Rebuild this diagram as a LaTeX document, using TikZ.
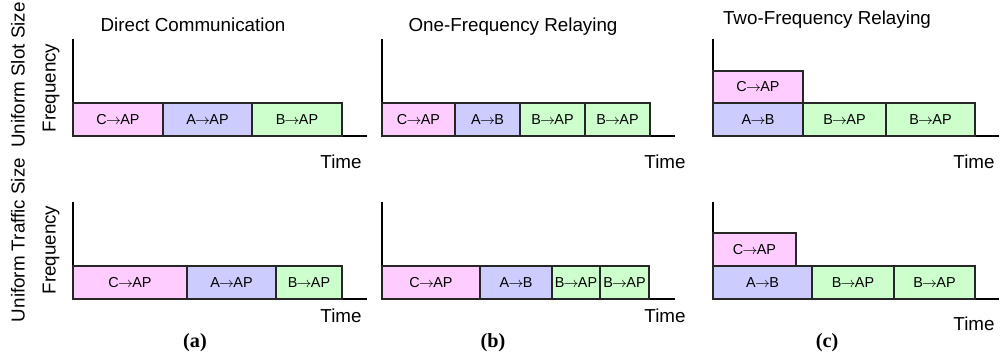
\documentclass[tikz,border=0pt]{standalone}
\usepackage{fontspec}
\setmainfont{Liberation Serif}
\setsansfont{Liberation Sans}
\usepackage{tikz}
\usetikzlibrary{fit,calc}
\definecolor{SlotC}{HTML}{FFCCFF}
\definecolor{SlotA}{HTML}{CCCCFF}
\definecolor{SlotB}{HTML}{CCFFCC}
\newcommand{\tx}{\kern-0.05em$\rightarrow$\kern-0.05em}

\begin{document}
\begin{tikzpicture}[
  x=0.02cm, y=-0.02cm,
  font=\sffamily\fontsize{10.7}{12}\selectfont,
  slot/.style={draw=black!85,line width=0.6pt,inner sep=0pt},
  slotlab/.style={inner sep=0pt,font=\sffamily\fontsize{8.2}{10}\selectfont},
  axis/.style={line width=0.7pt,black},
  ttl/.style={anchor=base,inner sep=0pt},
  tlab/.style={anchor=base,inner sep=0pt},
  ylab/.style={rotate=90,inner sep=0pt},
  sublab/.style={inner sep=0pt,font=\rmfamily\bfseries\fontsize{11.5}{13}\selectfont},
]
\useasboundingbox (0,0) rectangle (1000,356);

% axes
\foreach \n/\x/\y/\xe in {a1/73/136/367,a2/73/299/367,b1/382/136/675,
                          b2/382/299/675,c1/713/136/999,c2/713/299/999}{
  \coordinate (\n o) at (\x,\y);
  \coordinate (\n t) at (\x,\y-97);
  \coordinate (\n e) at (\xe,\y);
  \draw[axis] (\n t) -- (\n o) -- (\n e);
}

% slots
\foreach \n/\xa/\xb/\ya/\yb/\c/\t in {
  a1c/73/163/103/136/SlotC/C\tx AP, a1a/163/252/103/136/SlotA/A\tx AP, a1b/252/342/103/136/SlotB/B\tx AP,
  b1c/382/455/103/136/SlotC/C\tx AP, b1a/455/520/103/136/SlotA/A\tx B,
  b1b/520/585/103/136/SlotB/B\tx AP, b1d/585/650/103/136/SlotB/B\tx AP,
  c1c/713/803/71/103/SlotC/C\tx AP, c1a/713/803/103/136/SlotA/A\tx B,
  c1b/803/886/103/136/SlotB/B\tx AP, c1d/886/975/103/136/SlotB/B\tx AP,
  a2c/73/187/266/299/SlotC/C\tx AP, a2a/187/276/266/299/SlotA/A\tx AP, a2b/276/342/266/299/SlotB/B\tx AP,
  b2c/382/480/266/299/SlotC/C\tx AP, b2a/480/552/266/299/SlotA/A\tx B,
  b2b/552/600/266/299/SlotB/B\tx AP, b2d/600/649/266/299/SlotB/B\tx AP,
  c2c/713/796/233/266/SlotC/C\tx AP, c2a/713/812/266/299/SlotA/A\tx B,
  c2b/812/894/266/299/SlotB/B\tx AP, c2d/894/975/266/299/SlotB/B\tx AP}{
  \node[slot,fill=\c,fit={(\xa,\ya) (\xb,\yb)}] (\n) {};
  \node[slotlab] (\n l) at (\n.center) {\t};
}

% titles and axis labels
\node[ttl] (ta) at (193,31) {Direct Communication};
\node[ttl] (tb) at (513,31) {One-Frequency Relaying};
\node[ttl] (tc) at (827,24) {Two-Frequency Relaying};

\foreach \n/\x/\y in {a1/341/168,b1/665/168,c1/974/168,a2/341/322,b2/665/322,c2/974/330}
  \node[tlab] (\n time) at (\x,\y) {Time};

\node[ylab] (rowslot) at (18,75)  {Uniform Slot Size};
\node[ylab] (rowtraf) at (18,240) {Uniform Traffic Size};
\node[ylab] (fa1) at (51,88)  {Frequency};
\node[ylab] (fa2) at (51,250) {Frequency};

\node[sublab] (capa) at (195,343) {(a)};
\node[sublab] (capb) at (493,343) {(b)};
\node[sublab] (capc) at (827,343) {(c)};
\end{tikzpicture}
\end{document}
